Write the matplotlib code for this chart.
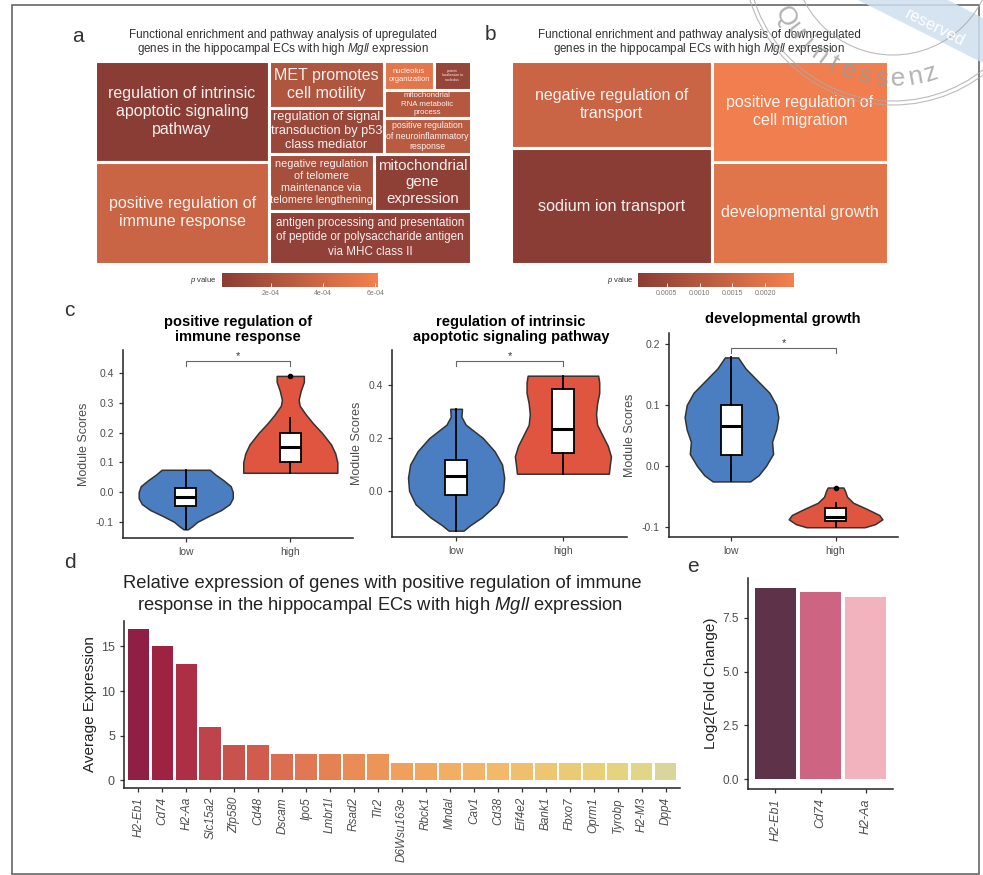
import numpy as np
import matplotlib
matplotlib.use('Agg')
import matplotlib.pyplot as plt
from matplotlib.colors import LinearSegmentedColormap, Normalize
from matplotlib.cm import ScalarMappable
from matplotlib.patches import Rectangle, Circle, Polygon
from matplotlib.ticker import FormatStrFormatter

plt.rcParams['font.family'] = ['Liberation Sans', 'DejaVu Sans']
plt.rcParams['mathtext.fontset'] = 'custom'
plt.rcParams['mathtext.it'] = 'Liberation Sans:italic'
plt.rcParams['mathtext.rm'] = 'Liberation Sans'
plt.rcParams['axes.unicode_minus'] = False

# ---------------- data ----------------
# a: enriched terms of upregulated genes
up_terms = ['regulation of intrinsic\napoptotic signaling\npathway',
            'positive regulation of\nimmune response',
            'MET promotes\ncell motility',
            'regulation of signal\ntransduction by p53\nclass mediator',
            'nucleolus\norganization',
            'protein\nlocalization to\nnucleolus',
            'mitochondrial\nRNA metabolic\nprocess',
            'positive regulation\nof neuroinflammatory\nresponse',
            'negative regulation\nof telomere\nmaintenance via\ntelomere lengthening',
            'mitochondrial\ngene\nexpression',
            'antigen processing and presentation\nof peptide or polysaccharide antigen\nvia MHC class II']
up_size = [17.5, 17.7, 5.3, 5.3, 1.45, 1.05, 2.5, 3.1, 5.9, 5.5, 10.7]
up_pval = [1.5e-5, 3.7e-4, 2.3e-4, 1.0e-4, 5.2e-4, 8e-5, 2.5e-4, 2.8e-4, 1.7e-4, 4e-5, 5.4e-5]

# b: enriched terms of downregulated genes
down_terms = ['negative regulation of\ntransport', 'sodium ion transport',
              'positive regulation of\ncell migration', 'developmental growth']
down_size = [17.5, 23.3, 17.7, 18.0]
down_pval = [1.49e-3, 7e-5, 2.37e-3, 2.0e-3]

# c: module scores (violin density profiles + box statistics)
groups = ['low', 'high']
module_titles = ['positive regulation of\nimmune response',
                 'regulation of intrinsic\napoptotic signaling pathway',
                 'developmental growth']

imm_low_y = [-0.125, -0.115, -0.1, -0.08, -0.06, -0.04, -0.02, 0.0, 0.02, 0.04, 0.06, 0.075]
imm_low_d = [0.02, 0.06, 0.11, 0.22, 0.34, 0.42, 0.45, 0.45, 0.43, 0.36, 0.28, 0.23]
imm_high_y = [0.065, 0.1, 0.13, 0.16, 0.2, 0.23, 0.26, 0.29, 0.31, 0.34, 0.37, 0.39]
imm_high_d = [0.45, 0.45, 0.43, 0.39, 0.30, 0.22, 0.15, 0.09, 0.08, 0.10, 0.13, 0.13]

apo_low_y = [-0.15, -0.13, -0.1, -0.05, 0.0, 0.05, 0.1, 0.15, 0.2, 0.25, 0.28, 0.31]
apo_low_d = [0.07, 0.13, 0.24, 0.38, 0.44, 0.45, 0.43, 0.36, 0.25, 0.09, 0.05, 0.055]
apo_high_y = [0.065, 0.1, 0.13, 0.17, 0.21, 0.25, 0.29, 0.33, 0.37, 0.41, 0.435]
apo_high_d = [0.43, 0.44, 0.45, 0.42, 0.37, 0.32, 0.31, 0.32, 0.34, 0.34, 0.33]

dev_low_y = [-0.025, -0.015, 0.0, 0.02, 0.04, 0.06, 0.08, 0.1, 0.12, 0.14, 0.16, 0.178]
dev_low_d = [0.18, 0.26, 0.33, 0.40, 0.39, 0.43, 0.45, 0.43, 0.365, 0.25, 0.135, 0.063]
dev_high_y = [-0.1, -0.095, -0.087, -0.08, -0.07, -0.06, -0.05, -0.04, -0.035]
dev_high_d = [0.28, 0.38, 0.45, 0.42, 0.30, 0.17, 0.11, 0.09, 0.075]

# box stats: whisker low, q1, median, q3, whisker high
imm_box = [(-0.125, -0.045, -0.018, 0.015, 0.075), (0.065, 0.1, 0.15, 0.2, 0.25)]
apo_box = [(-0.15, -0.015, 0.055, 0.115, 0.31), (0.065, 0.145, 0.235, 0.385, 0.435)]
dev_box = [(-0.025, 0.018, 0.065, 0.1, 0.178), (-0.1, -0.09, -0.083, -0.068, -0.06)]
imm_out = [[], [0.39]]
apo_out = [[], []]
dev_out = [[], [-0.035]]

# d: average expression of immune response genes
genes_d = ['H2-Eb1', 'Cd74', 'H2-Aa', 'Slc15a2', 'Zfp580', 'Cd48', 'Dscam', 'Ipo5',
           'Lmbr1l', 'Rsad2', 'Tlr2', 'D6Wsu163e', 'Rbck1', 'Mndal', 'Cav1', 'Cd38',
           'Eif4e2', 'Bank1', 'Fbxo7', 'Oprm1', 'Tyrobp', 'H2-M3', 'Dpp4']
expr_d = [17, 15, 13, 6, 4, 4, 3, 3, 3, 3, 3, 2, 2, 2, 2, 2, 2, 2, 2, 2, 2, 2, 2]

# e: log2 fold change
genes_e = ['H2-Eb1', 'Cd74', 'H2-Aa']
lfc_e = [8.89, 8.7, 8.47]

# ---------------- styles ----------------
bar_colors_d = ['#8F1F45', '#9E2343', '#AD2F46', '#BE434A', '#C9524C', '#D15C4D',
                '#DB6D50', '#E17853', '#E58254', '#EA8C56', '#EC9558', '#F0A05C',
                '#F1A75F', '#F2AE62', '#F3B466', '#F2BA68', '#F0BF6C', '#EEC570',
                '#EBCA73', '#E8CF78', '#E5D37E', '#DFD688', '#DAD69B']
bar_colors_e = ['#5E3349', '#CC6482', '#F2B3BE']
violin_colors = ['#4A7EC1', '#E0553F']
pcmap = LinearSegmentedColormap.from_list('pval', ['#8A3D35', '#F3804F'])
grey_txt = '#4D4D4D'

W, H = 983, 875
fig = plt.figure(figsize=(W / 100, H / 100), dpi=100)


def px_axes(x0, y0, x1, y1):
    return fig.add_axes([x0 / W, 1 - y1 / H, (x1 - x0) / W, (y1 - y0) / H])


def fig_text(x, y, s, **kw):
    return fig.text(x / W, 1 - y / H, s, **kw)


def tree_area(node, sizes):
    if isinstance(node, int):
        return sizes[node]
    return sum(tree_area(k, sizes) for k in node[1])


def tree_layout(node, x, y, w, h, sizes, out):
    if isinstance(node, int):
        out[node] = (x, y, w, h)
        return
    direction, kids = node
    areas = [tree_area(k, sizes) for k in kids]
    total = sum(areas)
    pos = 0.0
    for k, a in zip(kids, areas):
        f = a / total
        if direction == 'h':
            tree_layout(k, x + pos * w, y, w * f, h, sizes, out)
        else:
            tree_layout(k, x, y + pos * h, w, h * f, sizes, out)
        pos += f


def draw_treemap(ax, tree, terms, sizes, pvals, norm, fsizes):
    rects = {}
    tree_layout(tree, 0, 0, 1, 1, sizes, rects)
    for i, term in enumerate(terms):
        x, y, w, h = rects[i]
        ax.add_patch(Rectangle((x, y), w, h, facecolor=pcmap(norm(pvals[i])),
                               edgecolor='white', lw=2.2))
        ax.text(x + w / 2, y + h / 2, term, ha='center', va='center', color='white',
                alpha=0.92, fontsize=fsizes[i], linespacing=1.25)
    ax.set_xlim(0, 1)
    ax.set_ylim(1, 0)
    ax.axis('off')


def draw_colorbar(cax, norm, ticks, labels):
    cb = fig.colorbar(ScalarMappable(norm=norm, cmap=pcmap), cax=cax, orientation='horizontal')
    cb.outline.set_visible(False)
    cb.set_ticks(ticks, labels=labels)
    cax.tick_params(length=3, color='white', direction='in', labelsize=5,
                    labelcolor='#777777', pad=2, width=0.6)


# ---------------- a ----------------
tree_a = ('h', [('v', [0, 1]),
                ('v', [('h', [('v', [2, 3]), ('v', [('h', [4, 5]), 6, 7])]),
                       ('h', [8, 9]), 10])])
norm_a = Normalize(1.2e-5, 6.1e-4)
ax_a = px_axes(95, 61, 471, 264)
draw_treemap(ax_a, tree_a, up_terms, up_size, up_pval, norm_a,
             [11.5, 11.5, 11.5, 9.2, 5.4, 2.5, 5.7, 6.3, 7.8, 10.8, 8.4])
draw_colorbar(px_axes(222, 273, 378, 287), norm_a, [2e-4, 4e-4, 6e-4],
              ['2e-04', '4e-04', '6e-04'])
fig_text(203, 280, r'$\mathit{p}$ value', ha='center', va='center', fontsize=5.5, color='#333333')
fig_text(283, 35, 'Functional enrichment and pathway analysis of upregulated',
         ha='center', va='center', fontsize=8.4, color='#333333')
fig_text(283, 49, r'genes in the hippocampal ECs with high $\mathit{Mgll}$ expression',
         ha='center', va='center', fontsize=8.4, color='#333333')

# ---------------- b ----------------
tree_b = ('h', [('v', [0, 1]), ('v', [2, 3])])
norm_b = Normalize(6e-5, 2.44e-3)
ax_b = px_axes(511, 61, 888, 264)
draw_treemap(ax_b, tree_b, down_terms, down_size, down_pval, norm_b, [11.5, 11.7, 11.5, 11.6])
draw_colorbar(px_axes(638, 273, 794, 287), norm_b, [0.0005, 0.0010, 0.0015, 0.0020],
              ['0.0005', '0.0010', '0.0015', '0.0020'])
fig_text(620, 280, r'$\mathit{p}$ value', ha='center', va='center', fontsize=5.5, color='#333333')
fig_text(699, 35, 'Functional enrichment and pathway analysis of downregulated',
         ha='center', va='center', fontsize=8.4, color='#333333')
fig_text(699, 49, r'genes in the hippocampal ECs with high $\mathit{Mgll}$ expression',
         ha='center', va='center', fontsize=8.4, color='#333333')


# ---------------- c ----------------
def style_axes(ax):
    for s in ['top', 'right']:
        ax.spines[s].set_visible(False)
    for s in ['left', 'bottom']:
        ax.spines[s].set_linewidth(1.1)
        ax.spines[s].set_color('#222222')
    ax.tick_params(color='#333333', labelcolor=grey_txt, length=3, width=0.9)


def draw_violins(ax, profiles, boxes, outliers, ylim, yticks, bracket):
    stats = []
    for (yv, dv), b in zip(profiles, boxes):
        stats.append(dict(coords=np.array(yv), vals=np.array(dv), mean=b[2], median=b[2],
                          min=yv[0], max=yv[-1]))
    parts = ax.violin(stats, positions=[1, 2], widths=0.9, showextrema=False)
    for body, c in zip(parts['bodies'], violin_colors):
        body.set_facecolor(c)
        body.set_edgecolor('#333333')
        body.set_linewidth(1.1)
        body.set_alpha(1)
    bstats = [dict(whislo=b[0], q1=b[1], med=b[2], q3=b[3], whishi=b[4], fliers=o)
              for b, o in zip(boxes, outliers)]
    ax.bxp(bstats, positions=[1, 2], widths=0.2, patch_artist=True, showcaps=False,
           manage_ticks=False,
           boxprops=dict(facecolor='white', edgecolor='black', lw=1.3),
           medianprops=dict(color='black', lw=2.2),
           whiskerprops=dict(color='black', lw=1.3),
           flierprops=dict(marker='o', markersize=3, markerfacecolor='black',
                           markeredgecolor='black'))
    tip, top = bracket
    ax.plot([1, 1, 2, 2], [tip, top, top, tip], color='#666666', lw=0.8)
    ax.text(1.5, top, '*', ha='center', va='bottom', fontsize=8, color='#333333')
    ax.set_xlim(0.4, 2.6)
    ax.set_ylim(*ylim)
    ax.set_xticks([1, 2], groups)
    ax.set_yticks(yticks)
    ax.yaxis.set_major_formatter(FormatStrFormatter('%.1f'))
    ax.tick_params(labelsize=7.5)
    ax.set_ylabel('Module Scores', fontsize=9, color=grey_txt, labelpad=4)
    style_axes(ax)


ax_c1 = px_axes(123, 350, 353, 538)
draw_violins(ax_c1, [(imm_low_y, imm_low_d), (imm_high_y, imm_high_d)], imm_box, imm_out,
             (-0.154, 0.477), [-0.1, 0.0, 0.1, 0.2, 0.3, 0.4], (0.423, 0.44))
ax_c2 = px_axes(392, 350, 627, 537)
draw_violins(ax_c2, [(apo_low_y, apo_low_d), (apo_high_y, apo_high_d)], apo_box, apo_out,
             (-0.174, 0.532), [0.0, 0.2, 0.4], (0.47, 0.49))
ax_c3 = px_axes(669, 333, 898, 537)
draw_violins(ax_c3, [(dev_low_y, dev_low_d), (dev_high_y, dev_high_d)], dev_box, dev_out,
             (-0.116, 0.218), [-0.1, 0.0, 0.1, 0.2], (0.185, 0.193))

fig_text(238, 329.5, module_titles[0], ha='center', va='center', fontsize=10.5,
         fontweight='bold', linespacing=1.05)
fig_text(511, 329.5, module_titles[1], ha='center', va='center', fontsize=10.5,
         fontweight='bold', linespacing=1.05)
fig_text(783, 319, module_titles[2], ha='center', va='center', fontsize=10.5,
         fontweight='bold')

# ---------------- d ----------------
ax_d = px_axes(124, 621, 680, 788)
xd = np.arange(len(genes_d))
ax_d.bar(xd, expr_d, width=0.9, color=bar_colors_d)
ax_d.set_xlim(-0.6, len(genes_d) - 0.4)
ax_d.set_ylim(-0.05 * max(expr_d), 1.05 * max(expr_d))
ax_d.set_xticks(xd, genes_d, rotation=90, fontstyle='italic', fontsize=8.5)
ax_d.set_yticks([0, 5, 10, 15])
ax_d.tick_params(axis='y', labelsize=9)
ax_d.set_ylabel('Average Expression', fontsize=11, color='#222222', labelpad=3)
style_axes(ax_d)
fig_text(382, 583, 'Relative expression of genes with positive regulation of immune',
         ha='center', va='center', fontsize=13.2, color='#222222')
fig_text(380, 605, r'response in the hippocampal ECs with high $\mathit{Mgll}$ expression',
         ha='center', va='center', fontsize=13.2, color='#222222')

# ---------------- e ----------------
ax_e = px_axes(748, 578, 893, 789)
xe = np.arange(len(genes_e))
ax_e.bar(xe, lfc_e, width=0.9, color=bar_colors_e)
ax_e.set_xlim(-0.6, len(genes_e) - 0.4)
ax_e.set_ylim(-0.05 * max(lfc_e), 1.05 * max(lfc_e))
ax_e.set_xticks(xe, genes_e, rotation=90, fontstyle='italic', fontsize=9)
ax_e.set_yticks([0.0, 2.5, 5.0, 7.5])
ax_e.yaxis.set_major_formatter(FormatStrFormatter('%.1f'))
ax_e.tick_params(axis='y', labelsize=8.5)
ax_e.set_ylabel('Log2(Fold Change)', fontsize=11, color='#222222', labelpad=3)
style_axes(ax_e)

# panel letters
for letter, (lx, ly) in zip('abcde', [(78, 36), (490, 35), (69, 311), (70, 563), (693, 566)]):
    fig_text(lx, ly, letter, ha='center', va='center', fontsize=15, color='#333333')

# ---------------- frame and stamp ----------------
ov = fig.add_axes([0, 0, 1, 1], zorder=10)
ov.set_xlim(0, W)
ov.set_ylim(H, 0)
ov.axis('off')
ov.patch.set_visible(False)
ov.add_patch(Rectangle((12, 5), 967, 869, fill=False, ec='#666666', lw=1.2))

ov.add_patch(Polygon([(858, 0), (948, 0), (983, 18), (983, 63)], closed=True,
                     facecolor='#CFDFEE', edgecolor='none', alpha=0.85))
ov.text(935, 28, 'reserved', rotation=-27, ha='center', va='center', fontsize=12,
        color='white', rotation_mode='anchor')
scx, scy = 893, -45
for rad, lw in [(150, 0.8), (146, 0.8), (100, 0.8)]:
    ov.add_patch(Circle((scx, scy), rad, fill=False, ec='#AAAAAA', lw=lw, alpha=0.8))
stamp_word = 'Quintessenz'
for ch, ang in zip(stamp_word, np.linspace(150, 72, len(stamp_word))):
    t = np.deg2rad(ang)
    ov.text(scx + 124 * np.cos(t), scy + 124 * np.sin(t), ch, rotation=90 - ang,
            rotation_mode='anchor', ha='center', va='center', fontsize=19,
            color='#9A9A9A', alpha=0.75)

fig.savefig('out.png', dpi=100)
